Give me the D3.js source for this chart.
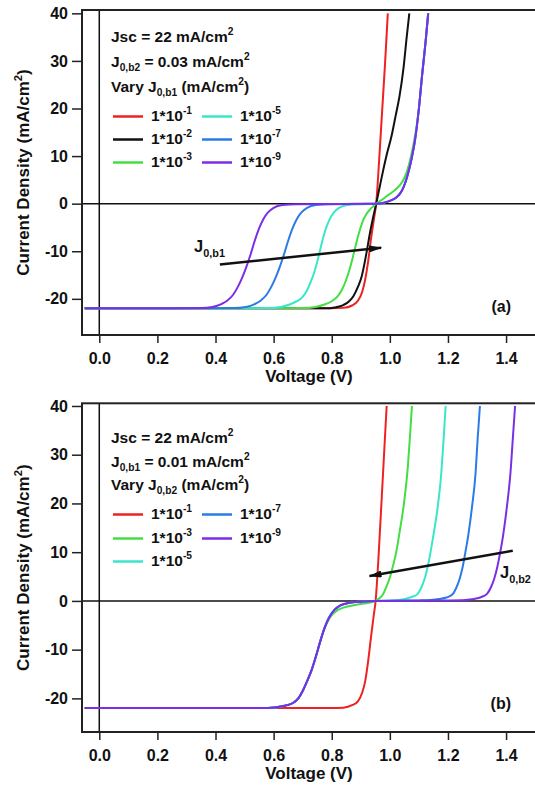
<!DOCTYPE html>
<html>
<head>
<meta charset="utf-8">
<script src="https://cdn.jsdelivr.net/npm/d3@7"></script>
<style>
body { margin: 0; background: #fff; }
svg text { font-family: "Liberation Sans", Arial, sans-serif; font-weight: bold; fill: #111; }
</style>
</head>
<body>
<svg id="chart" width="535" height="788"></svg>
<script>
const voltTicks = [0.0, 0.2, 0.4, 0.6, 0.8, 1.0, 1.2, 1.4];
const currTicks = [-20, -10, 0, 10, 20, 30, 40];

// panel (a): J0,b2 fixed, J0,b1 varied   [V, J]
const aRed = [[-0.05,-22],[0.80,-22],[0.84,-21.9],[0.87,-21.4],[0.89,-20.4],[0.905,-18.5],[0.915,-16],[0.925,-12.3],[0.935,-7.5],[0.945,-3.3],[0.953,0],[0.963,9],[0.974,20],[0.984,30],[0.993,40]];
const aBlack = [[-0.05,-22],[0.78,-22],[0.81,-21.8],[0.84,-21.3],[0.86,-20.5],[0.875,-19.4],[0.89,-17.5],[0.903,-15.3],[0.913,-12.5],[0.922,-9.5],[0.932,-6],[0.942,-3],[0.953,0],[0.965,3.5],[0.977,7],[0.99,10.5],[1.005,14],[1.02,18.5],[1.033,22.5],[1.047,28.5],[1.058,35],[1.067,40]];
const aGreen = [[-0.05,-22],[0.70,-21.95],[0.745,-21.7],[0.775,-21.2],[0.80,-20.5],[0.82,-19.5],[0.835,-18.1],[0.848,-16.3],[0.86,-14.1],[0.872,-11.4],[0.884,-8.4],[0.896,-5.7],[0.908,-3.5],[0.92,-2.1],[0.935,-1.0],[0.953,0],[0.97,0.7],[0.99,1.6],[1.01,2.5],[1.033,3.8],[1.05,5.4],[1.065,8],[1.078,11.5],[1.09,15.5],[1.1,20],[1.111,27],[1.123,34],[1.132,40]];
const aTurqNeg = [[-0.05,-22],[0.58,-21.95],[0.625,-21.7],[0.655,-21.2],[0.68,-20.5],[0.70,-19.6],[0.715,-18.2],[0.728,-16.4],[0.741,-14.2],[0.753,-11.5],[0.765,-8.5],[0.778,-5.6],[0.792,-3.4],[0.807,-1.9],[0.825,-0.9],[0.855,-0.3],[0.90,-0.1]];
const aBlueNeg = [[-0.05,-22],[0.46,-21.95],[0.505,-21.7],[0.535,-21.1],[0.555,-20.4],[0.575,-19.2],[0.59,-17.7],[0.605,-15.8],[0.62,-13.5],[0.635,-10.8],[0.65,-7.8],[0.665,-5.2],[0.68,-3.2],[0.695,-1.9],[0.715,-0.9],[0.745,-0.3],[0.80,-0.1],[0.90,-0.05]];
const aPurpleNeg = [[-0.05,-22],[0.35,-21.95],[0.39,-21.7],[0.42,-21.1],[0.44,-20.4],[0.46,-19.2],[0.475,-17.7],[0.49,-15.8],[0.505,-13.5],[0.52,-10.8],[0.535,-7.8],[0.55,-5.2],[0.565,-3.2],[0.58,-1.9],[0.60,-0.9],[0.63,-0.3],[0.68,-0.1],[0.85,-0.05]];
// above Voc the 1e-5, 1e-7, 1e-9 curves lie on top of each other
const aPos = [[0.953,0],[0.98,0.2],[1.0,0.6],[1.02,1.2],[1.035,2.1],[1.048,3.6],[1.062,6.2],[1.075,9.5],[1.087,13.5],[1.1,20],[1.111,27],[1.123,34],[1.132,40]];

// panel (b): J0,b1 fixed, J0,b2 varied
const bRed = [[-0.05,-22],[0.80,-22],[0.84,-21.9],[0.87,-21.4],[0.89,-20.6],[0.905,-18.8],[0.915,-16.5],[0.925,-12.5],[0.935,-7.5],[0.944,-3.2],[0.951,0],[0.961,9],[0.971,20],[0.98,30],[0.989,40]];
const bGreen = [[-0.05,-22],[0.58,-21.95],[0.63,-21.6],[0.665,-21],[0.685,-20],[0.70,-18.5],[0.715,-16.5],[0.73,-14.3],[0.745,-11.5],[0.76,-8.4],[0.775,-5.7],[0.79,-3.8],[0.805,-2.6],[0.82,-1.9],[0.85,-1.2],[0.88,-0.85],[0.91,-0.55],[0.935,-0.3],[0.951,0],[0.965,0.6],[0.976,1.3],[0.988,2.9],[1.0,4.8],[1.01,7],[1.022,10],[1.033,13.9],[1.05,20.7],[1.062,27.6],[1.07,34.4],[1.076,40]];
// below Voc the 1e-5, 1e-7, 1e-9 curves coincide
const bNeg = [[-0.05,-22],[0.58,-21.95],[0.63,-21.6],[0.665,-21],[0.685,-20],[0.70,-18.5],[0.715,-16.5],[0.73,-14.3],[0.745,-11.5],[0.76,-8.4],[0.775,-5.6],[0.79,-3.5],[0.81,-1.8],[0.83,-0.9],[0.86,-0.4],[0.90,-0.15]];
const bTurqPos = [[0.951,0],[1.0,0.08],[1.03,0.2],[1.055,0.45],[1.075,0.8],[1.095,1.4],[1.108,2.7],[1.12,4.6],[1.13,6.9],[1.14,10],[1.15,13.5],[1.165,19.4],[1.177,26.2],[1.185,33.1],[1.192,40]];
const bBluePos = [[0.951,0],[1.05,0.05],[1.1,0.1],[1.14,0.2],[1.17,0.4],[1.195,0.7],[1.215,1.3],[1.228,2.6],[1.24,4.5],[1.25,6.8],[1.26,10],[1.27,13.5],[1.283,19.4],[1.295,26.2],[1.302,33.1],[1.31,40]];
const bPurplePos = [[0.951,0],[1.1,0.05],[1.2,0.1],[1.26,0.2],[1.29,0.4],[1.315,0.8],[1.335,1.5],[1.348,2.8],[1.36,4.7],[1.37,7],[1.38,10],[1.39,13.5],[1.403,19.4],[1.415,26.2],[1.423,33.1],[1.431,40]];

const expA = ['-1', '-2', '-3', '-5', '-7', '-9'];
const expB = ['-1', '-3', '-5', '-7', '-9'];
const colorsA = ['#ee2222', '#111111', '#44dd44', '#3ae6c8', '#2a7be6', '#7b2ee6'];
const colorsB = ['#ee2222', '#44dd44', '#3ae6c8', '#2a7be6', '#7b2ee6'];

// arrows [start, tip] in data units
const arrowA = [[0.415, -12.8], [0.970, -9.25]];
const arrowB = [[1.423, 10.3], [0.930, 5.1]];

const svg = d3.select('#chart');

const defs = svg.append('defs');
defs.append('marker')
    .attr('id', 'head')
    .attr('viewBox', '0 0 13 7')
    .attr('refX', 12).attr('refY', 3.5)
    .attr('markerWidth', 13).attr('markerHeight', 7)
    .attr('markerUnits', 'userSpaceOnUse')
    .attr('orient', 'auto')
    .append('path').attr('d', 'M0,0 L13,3.5 L0,7 z').attr('fill', '#111');

// writes text with ^sup and _sub parts
function rich(g, x, y, parts, size) {
    const t = g.append('text').attr('x', x).attr('y', y).style('font-size', size + 'px');
    let shift = 0;
    parts.forEach(p => {
        const kind = p[0] === '^' ? 'sup' : p[0] === '_' ? 'sub' : 'n';
        const str = kind === 'n' ? p : p.slice(1);
        const target = kind === 'sup' ? -size * 0.42 : kind === 'sub' ? size * 0.27 : 0;
        t.append('tspan')
            .attr('dy', target - shift)
            .style('font-size', (kind === 'n' ? size : size * 0.66) + 'px')
            .text(str);
        shift = target;
    });
    return t;
}

const x = d3.scaleLinear().domain([-0.0595, 1.503]).range([82, 536]);
const line = d3.line().x(d => x(d[0])).curve(d3.curveMonotoneX);

const panels = [
    {
        id: 'a', top: 10, bottom: 335, yDom: [-27.6, 40.7],
        series: [aRed, aBlack, aGreen, aTurqNeg.concat(aPos), aBlueNeg.concat(aPos), aPurpleNeg.concat(aPos)],
        colors: colorsA, exps: expA,
        head: [['Jsc = 22 mA/cm', '^2'], ['J', '_0,b2', ' = 0.03 mA/cm', '^2'], ['Vary J', '_0,b1', ' (mA/cm', '^2', ')']],
        headY: [42, 67, 92], rowY: [121, 144, 167],
        arrow: arrowA, arrowLabel: ['J', '_0,b1'], labelAt: [0.326, -10.2],
        tag: '(a)', tagY: 312
    },
    {
        id: 'b', top: 403.3, bottom: 732, yDom: [-26.9, 40.55],
        series: [bRed, bGreen, bNeg.concat(bTurqPos), bNeg.concat(bBluePos), bNeg.concat(bPurplePos)],
        colors: colorsB, exps: expB,
        head: [['Jsc = 22 mA/cm', '^2'], ['J', '_0,b1', ' = 0.01 mA/cm', '^2'], ['Vary J', '_0,b2', ' (mA/cm', '^2', ')']],
        headY: [443, 467, 490], rowY: [519, 543, 566],
        arrow: arrowB, arrowLabel: ['J', '_0,b2'], labelAt: [1.379, 4.6],
        tag: '(b)', tagY: 709
    }
];

panels.forEach(p => {
    const y = d3.scaleLinear().domain(p.yDom).range([p.bottom, p.top]);
    const g = svg.append('g');

    defs.append('clipPath').attr('id', 'clip-' + p.id)
        .append('rect').attr('x', 82).attr('y', p.top).attr('width', 460).attr('height', p.bottom - p.top);

    // zero lines
    g.append('line')
        .attr('x1', 82).attr('x2', 540).attr('y1', y(0)).attr('y2', y(0))
        .attr('stroke', '#111').attr('stroke-width', 1.5);
    g.append('line')
        .attr('x1', x(0)).attr('x2', x(0)).attr('y1', p.top).attr('y2', p.bottom)
        .attr('stroke', '#111').attr('stroke-width', 1.5);

    // curves
    line.y(d => y(d[1]));
    g.append('g').attr('clip-path', `url(#clip-${p.id})`)
        .selectAll('path')
        .data(p.series)
        .enter().append('path')
        .attr('d', d => line(d))
        .attr('fill', 'none')
        .attr('stroke', (d, i) => p.colors[i])
        .attr('stroke-width', 2);

    // frame
    g.append('rect')
        .attr('x', 82).attr('y', p.top)
        .attr('width', 470).attr('height', p.bottom - p.top)
        .attr('fill', 'none').attr('stroke', '#222').attr('stroke-width', 2);

    // axes
    const ya = g.append('g')
        .attr('transform', 'translate(82,0)')
        .call(d3.axisLeft(y).tickValues(currTicks).tickSize(10).tickPadding(4).tickFormat(d => String(d)));
    const xa = g.append('g')
        .attr('transform', `translate(0,${p.bottom})`)
        .call(d3.axisBottom(x).tickValues(voltTicks).tickSize(8).tickPadding(10).tickFormat(d3.format('.1f')));
    [ya, xa].forEach(a => {
        a.select('.domain').remove();
        a.selectAll('line').attr('stroke', '#222').attr('stroke-width', 1.5);
        a.selectAll('text').style('font-size', '16px').style('font-family', '"Liberation Sans", Arial, sans-serif').style('font-weight', 'bold').attr('fill', '#111');
    });

    // axis titles
    g.append('text')
        .attr('x', 309).attr('y', p.bottom + 47)
        .attr('text-anchor', 'middle')
        .style('font-size', '17px')
        .text('Voltage (V)');
    const yt = rich(g, 0, 0, ['Current Density (mA/cm', '^2', ')'], 17)
        .attr('text-anchor', 'middle')
        .attr('transform', `translate(29,${(p.top + p.bottom) / 2}) rotate(-90)`);

    // legend header
    p.head.forEach((h, i) => rich(g, 111, p.headY[i], h, 15.5));

    // legend entries, two columns of three
    p.exps.forEach((e, i) => {
        const col = Math.floor(i / 3), row = i % 3;
        const lx = col === 0 ? 113 : 202;
        const ly = p.rowY[row];
        g.append('line')
            .attr('x1', lx).attr('x2', lx + 30)
            .attr('y1', ly - 4.5).attr('y2', ly - 4.5)
            .attr('stroke', p.colors[i]).attr('stroke-width', 2.5);
        rich(g, lx + 38, ly, ['1*10', '^' + e], 15.5);
    });

    // arrow + label
    g.append('line')
        .attr('x1', x(p.arrow[0][0])).attr('y1', y(p.arrow[0][1]))
        .attr('x2', x(p.arrow[1][0])).attr('y2', y(p.arrow[1][1]))
        .attr('stroke', '#111').attr('stroke-width', 2.5)
        .attr('marker-end', 'url(#head)');
    rich(g, x(p.labelAt[0]), y(p.labelAt[1]), p.arrowLabel, 16.5);

    g.append('text')
        .attr('x', 511).attr('y', p.tagY)
        .attr('text-anchor', 'end')
        .style('font-size', '16px')
        .text(p.tag);
});
</script>
</body>
</html>
